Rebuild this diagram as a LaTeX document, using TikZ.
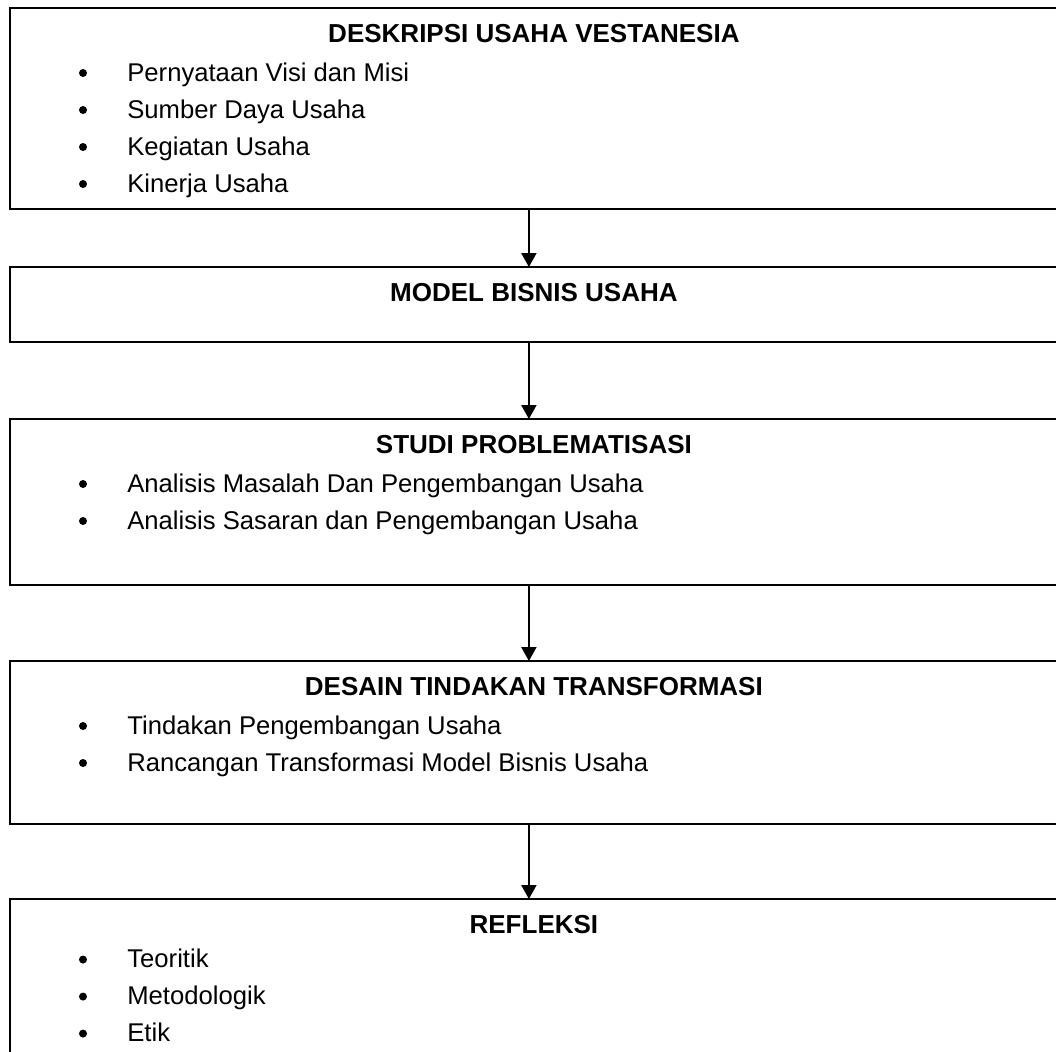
\documentclass[tikz,border=0pt]{standalone}
\usepackage{fontspec}
\setmainfont{Liberation Sans}
\usetikzlibrary{calc}
\usetikzlibrary{arrows.meta}
\newcommand\bitem[3]{
    \def\dy{37}
    \node[bdot] (#1d) at ($(#2.north west) + (73,{65+#3*\dy})$) {};
    \node[btext] (#1t) at ($(#2.north west) + (117,{73+#3*\dy})$)
}

\begin{document}
\begin{tikzpicture}[
        x=0.02cm, y=-0.02cm,
        font=\fontsize{14.6}{17}\selectfont,
        box/.style={draw, line width=1.4pt, minimum width=21.04cm,
            anchor=north west, inner sep=0pt, outer sep=0pt},
        title/.style={anchor=base, inner sep=0pt, font=\fontsize{14.8}{17}\selectfont\bfseries},
        bdot/.style={circle, fill, inner sep=0pt, minimum size=0.16cm},
        btext/.style={anchor=base west, inner sep=0pt},
        flow/.style={-{Triangle[width=3mm,length=2.8mm]}, line width=1.3pt}
    ]
    \useasboundingbox (0,0) rectangle (1056,1052);
    \foreach \n/\y/\h in {B1/8/4.02, B2/267/1.5, B3/419/3.32, B4/661/3.26, B5/899/3.5}
    {
        \node[box, minimum height=\h cm] (\n) at ($(10,\y)$) {};
    }
    \node[title] (T1) at ($(B1.north) + (-2,34)$) {DESKRIPSI USAHA VESTANESIA};
    \node[title] (T2) at ($(B2.north) + (-2,34)$) {MODEL BISNIS USAHA};
    \node[title] (T3) at ($(B3.north) + (-2,34)$) {STUDI PROBLEMATISASI};
    \node[title] (T4) at ($(B4.north) + (-2,34)$) {DESAIN TINDAKAN TRANSFORMASI};
    \node[title] (T5) at ($(B5.north) + (-2,34)$) {REFLEKSI};

    \bitem{a1}{B1}{0} {Pernyataan Visi dan Misi};
    \bitem{a2}{B1}{1} {Sumber Daya Usaha};
    \bitem{a3}{B1}{2} {Kegiatan Usaha};
    \bitem{a4}{B1}{3} {Kinerja Usaha};
    \bitem{c1}{B3}{0} {Analisis Masalah Dan Pengembangan Usaha};
    \bitem{c2}{B3}{1} {Analisis Sasaran dan Pengembangan Usaha};
    \bitem{d1}{B4}{0} {Tindakan Pengembangan Usaha};
    \bitem{d2}{B4}{1} {Rancangan Transformasi Model Bisnis Usaha};
    \bitem{e1}{B5}{-0.12} {Teoritik};
    \bitem{e2}{B5}{0.88} {Metodologik};
    \bitem{e3}{B5}{1.88} {Etik};

    \foreach \p/\q in {B1/B2, B2/B3, B3/B4, B4/B5}
    {
        \draw[flow] ($(\p.south) + (-7,0)$) -- ($(\q.north) + (-7,0)$);
    }
\end{tikzpicture}
\end{document}
